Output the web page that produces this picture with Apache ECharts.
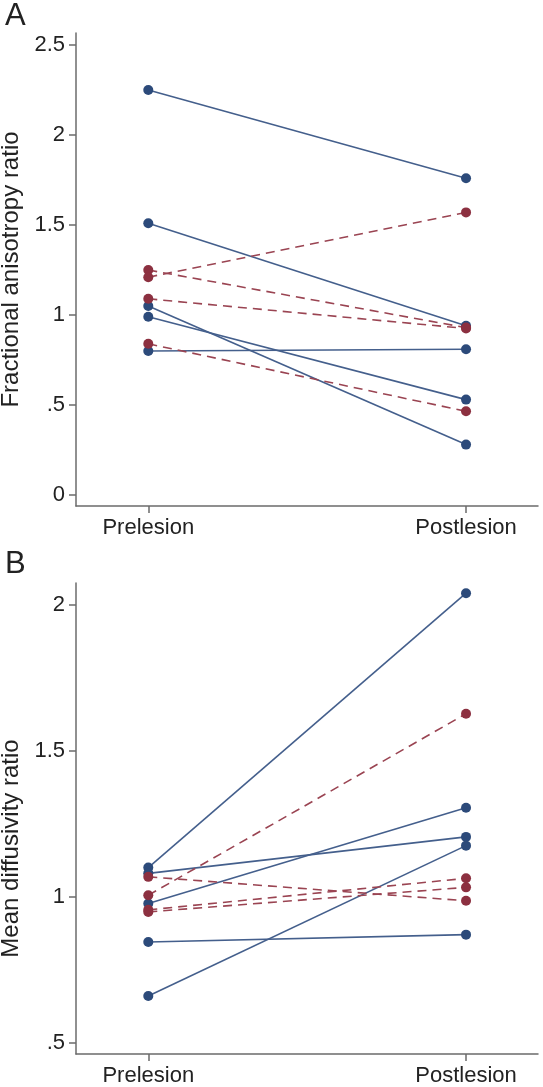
<!DOCTYPE html>
<html>
<head>
<meta charset="utf-8">
<script src="https://cdn.jsdelivr.net/npm/echarts@6/dist/echarts.min.js"></script>
<style>
html,body{margin:0;padding:0;background:#fff;}
#chart{width:543px;height:1087px;}
</style>
</head>
<body>
<div id="chart"></div>
<script>
// ---- data ----
const xCategories = ['Prelesion', 'Postlesion'];
// Panel A: fractional anisotropy ratio
const faSolidPre  = [2.25, 1.51, 1.05, 0.99, 0.80];
const faSolidPost = [1.76, 0.94, 0.28, 0.53, 0.81];
const faDashPre   = [1.25, 1.21, 1.09, 0.84];
const faDashPost  = [0.93, 1.57, 0.925, 0.465];
// Panel B: mean diffusivity ratio
const mdSolidPre  = [1.10, 1.08, 0.977, 0.845, 0.66];
const mdSolidPost = [2.04, 1.205, 1.305, 0.87, 1.175];
const mdDashPre   = [1.068, 1.005, 0.955, 0.948];
const mdDashPost  = [0.986, 1.627, 1.063, 1.032];
// tick labels
const faTicks = [0, 0.5, 1, 1.5, 2, 2.5];
const faTickLabels = ['0', '.5', '1', '1.5', '2', '2.5'];
const mdTicks = [0.5, 1, 1.5, 2];
const mdTickLabels = ['.5', '1', '1.5', '2'];
const panelLabels = ['A', 'B'];
const yTitles = ['Fractional anisotropy ratio', 'Mean diffusivity ratio'];

// ---- styles ----
const BLUE = '#2c4a7a';
const BLUE_LINE = '#445f8c';
const RED = '#8c3040';
const RED_LINE = '#9a4452';
const AXIS = '#6b6b6b';
const TEXT = '#222';
const FONT = 'Liberation Sans, Arial, sans-serif';

function pairSeries(pre, post, gridIdx, dashed) {
  return pre.map((v, i) => ({
    type: 'line',
    xAxisIndex: gridIdx,
    yAxisIndex: gridIdx,
    data: [[0, v], [1, post[i]]],
    symbol: 'circle',
    symbolSize: 10,
    itemStyle: { color: dashed ? RED : BLUE },
    lineStyle: {
      color: dashed ? RED_LINE : BLUE_LINE,
      width: 1.6,
      type: dashed ? [9, 6] : 'solid'
    },
    z: dashed ? 3 : 2,
    silent: true,
    animation: false
  }));
}

function xAxisCfg(gridIdx) {
  return {
    type: 'value',
    gridIndex: gridIdx,
    min: -0.2275,
    max: 1.2265,
    splitLine: { show: false },
    axisLine: { show: true, onZero: false, lineStyle: { color: AXIS, width: 1.5 } },
    axisTick: { show: true, customValues: [0, 1], length: 7, lineStyle: { color: AXIS, width: 1.5 } },
    axisLabel: {
      customValues: [0, 1],
      formatter: v => xCategories[Math.round(v)],
      color: TEXT, fontSize: 22, fontFamily: FONT, margin: 11
    }
  };
}

function yAxisCfg(gridIdx, min, max, ticks, labels, name, namePad) {
  return {
    type: 'value',
    gridIndex: gridIdx,
    min: min,
    max: max,
    name: name,
    nameLocation: 'middle',
    nameGap: 46,
    nameTextStyle: { color: TEXT, fontSize: 24, fontFamily: FONT, padding: namePad },
    splitLine: { show: false },
    axisLine: { show: true, onZero: false, lineStyle: { color: AXIS, width: 1.5 } },
    axisTick: { show: true, customValues: ticks, length: 7, lineStyle: { color: AXIS, width: 1.5 } },
    axisLabel: {
      customValues: ticks,
      formatter: v => labels[ticks.findIndex(t => Math.abs(t - v) < 1e-6)],
      color: TEXT, fontSize: 22, fontFamily: FONT, margin: 11
    }
  };
}

const chart = echarts.init(document.getElementById('chart'), null, { renderer: 'canvas' });
chart.setOption({
  backgroundColor: '#fff',
  animation: false,
  title: [
    { text: panelLabels[0], left: 0, top: -4, textStyle: { fontSize: 31, fontWeight: 'normal', color: TEXT, fontFamily: FONT } },
    { text: panelLabels[1], left: 0, top: 544, textStyle: { fontSize: 31, fontWeight: 'normal', color: TEXT, fontFamily: FONT } }
  ],
  grid: [
    { left: 76, right: 5, top: 33, height: 473, containLabel: false, outerBoundsMode: 'none' },
    { left: 76, right: 5, top: 583, height: 471, containLabel: false, outerBoundsMode: 'none' }
  ],
  xAxis: [xAxisCfg(0), xAxisCfg(1)],
  yAxis: [
    yAxisCfg(0, -0.0611, 2.5667, faTicks, faTickLabels, yTitles[0], [0, 0, 0, 0]),
    yAxisCfg(1, 0.461, 2.075, mdTicks, mdTickLabels, yTitles[1], [0, 60, 0, 0])
  ],
  series: [].concat(
    pairSeries(faSolidPre, faSolidPost, 0, false),
    pairSeries(faDashPre, faDashPost, 0, true),
    pairSeries(mdSolidPre, mdSolidPost, 1, false),
    pairSeries(mdDashPre, mdDashPost, 1, true)
  )
});
</script>
</body>
</html>
